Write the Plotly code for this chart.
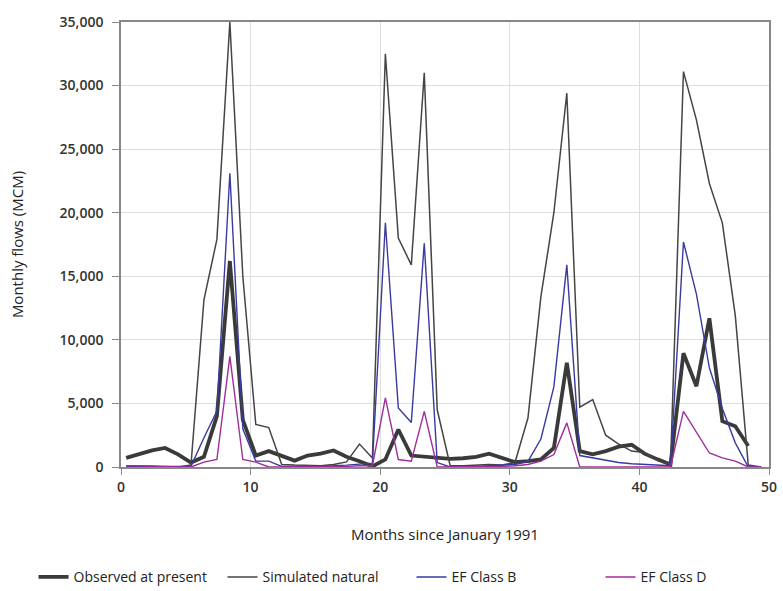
import plotly.graph_objects as go

# Month index (monthly steps since January 1991)
month_index = list(range(50))
x_offset = 0.4  # points sit slightly right of the integer gridlines in the original

observed = [720, 1000, 1300, 1500, 1000, 350, 800, 4000, 16200, 3700,
            900, 1250, 850, 500, 900, 1050, 1300, 800, 450, 50,
            590, 2950, 900, 800, 690, 640, 690, 800, 1050, 720,
            380, 460, 590, 1500, 8200, 1250, 1000, 1250, 1600, 1750,
            1050, 600, 200, 8950, 6350, 11700, 3600, 3200, 1650, None]

simulated = [100, 100, 50, 0, 0, 150, 13150, 17900, 35000, 15000,
             3350, 3100, 200, 150, 100, 100, 200, 400, 1800, 700,
             32500, 18000, 15900, 31000, 4500, 100, 100, 150, 200, 150,
             350, 3850, 13400, 20000, 29400, 4700, 5300, 2500, 1800, 1250,
             1150, 500, 200, 31100, 27300, 22300, 19200, 11900, 150, 0]

ef_b = [50, 50, 50, 0, 0, 50, 2300, 4400, 23100, 3000,
        460, 460, 50, 50, 50, 50, 100, 150, 200, 300,
        19200, 4650, 3500, 17600, 350, 0, 0, 50, 100, 100,
        200, 450, 2200, 6300, 15900, 900, 700, 500, 350, 250,
        200, 150, 100, 17700, 13600, 7800, 4600, 1900, 0, 0]

ef_d = [100, 100, 100, 50, 0, 0, 380, 590, 8700, 590,
        380, 0, 0, 0, 0, 0, 50, 50, 100, 100,
        5430, 590, 460, 4380, 0, 0, 0, 0, 50, 50,
        100, 200, 460, 980, 3470, 0, 0, 0, 0, 0,
        0, 0, 0, 4380, 2700, 1100, 720, 460, 0, 0]

series_names = ["Observed at present", "Simulated natural", "EF Class B", "EF Class D"]
x_ticks = [0, 10, 20, 30, 40, 50]
y_ticks = [0, 5000, 10000, 15000, 20000, 25000, 30000, 35000]
y_tick_labels = ["0", "5,000", "10,000", "15,000", "20,000", "25,000", "30,000", "35,000"]

xs = [m + x_offset for m in month_index]

fig = go.Figure()
fig.add_trace(go.Scatter(x=xs, y=observed, mode="lines", name=series_names[0],
                         line=dict(color="#3a3a3a", width=3.8), connectgaps=False))
fig.add_trace(go.Scatter(x=xs, y=simulated, mode="lines", name=series_names[1],
                         line=dict(color="#454545", width=1.5)))
fig.add_trace(go.Scatter(x=xs, y=ef_b, mode="lines", name=series_names[2],
                         line=dict(color="#3a3aa0", width=1.4)))
fig.add_trace(go.Scatter(x=xs, y=ef_d, mode="lines", name=series_names[3],
                         line=dict(color="#a02d9c", width=1.4)))

font_family = "Open Sans, Liberation Sans, sans-serif"

fig.update_layout(
    width=783, height=591,
    margin=dict(l=121, r=14, t=22, b=124, autoexpand=False),
    paper_bgcolor="white", plot_bgcolor="white",
    font=dict(family=font_family, color="#333333", size=13),
    showlegend=True,
    legend=dict(orientation="h", x=-0.135, xanchor="left", y=-0.248, yanchor="middle",
                font=dict(size=14, color="#222222"), itemwidth=30,
                entrywidth=144, entrywidthmode="pixels",
                traceorder="normal"),
    xaxis=dict(range=[0, 50], tickvals=x_ticks, ticks="outside", ticklen=6,
               tickcolor="#888888", showgrid=True, gridcolor="#dedede", gridwidth=1,
               showline=True, linecolor="#888888", linewidth=1.5, mirror=True,
               zeroline=False, automargin=False,
               tickfont=dict(size=14, color="#333333", weight=600),
               title=dict(text="Months since January 1991", standoff=35,
                          font=dict(size=15, color="#222222"))),
    yaxis=dict(range=[0, 35000], tickvals=y_ticks, ticktext=y_tick_labels,
               ticks="outside", ticklen=7, tickcolor="#888888",
               showgrid=True, gridcolor="#dedede", gridwidth=1,
               showline=True, linecolor="#888888", linewidth=1.5, mirror=True,
               zeroline=False, automargin=False, ticklabelstandoff=6,
               tickfont=dict(size=14, color="#333333", weight=600),
               title=dict(text="Monthly flows (MCM)", standoff=32,
                          font=dict(size=15, color="#222222"))),
)

fig.write_html("out.html")
